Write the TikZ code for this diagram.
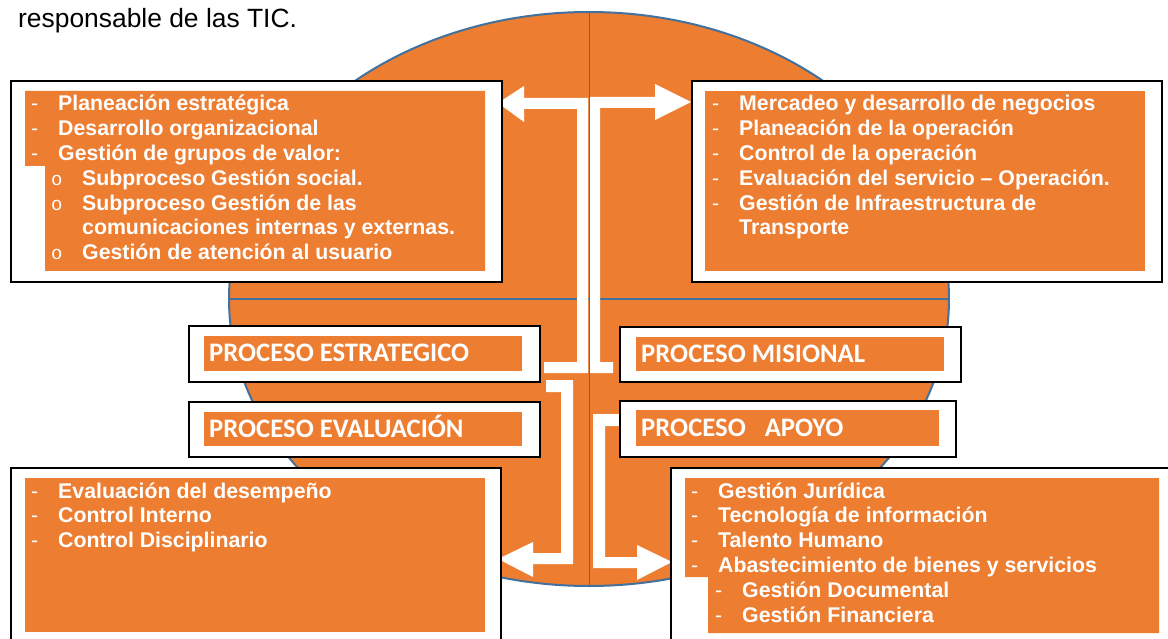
\documentclass[tikz,border=0pt]{standalone}
\usepackage{fontspec}
\setmainfont{Liberation Sans}
\newfontfamily\calibri{Carlito}
\newfontfamily\mono{Liberation Mono}
\usepackage{tikz}
\usetikzlibrary{positioning}
\definecolor{naranja}{HTML}{ED7D31}
\definecolor{azul}{HTML}{41719C}
\newcommand{\bul}[1]{\makebox[27pt][l]{\mdseries -}#1}
\newcommand{\subbul}[1]{\hspace*{20pt}\makebox[31pt][l]{\mono\mdseries\fontsize{19}{19}\selectfont o}#1}
\begin{document}
\begin{tikzpicture}[x=1pt,y=-1pt,
        marco/.style={draw=black,line width=2pt,fill=white,inner sep=0pt,anchor=north west},
        etiqueta/.style={fill=naranja,inner sep=0pt,anchor=north west},
        lista/.style={anchor=base west,inner sep=0pt,text=white,font=\bfseries\fontsize{21.3}{24.8}\selectfont},
        titulo/.style={anchor=base west,inner sep=0pt,text=white,font=\calibri\bfseries\fontsize{26.7}{30}\selectfont},
        flecha/.style={fill=white}]
        \useasboundingbox (0,0) rectangle (1168,639);
        \clip (0,0) rectangle (1168,639);
        \node[anchor=base west,inner sep=0pt,font=\fontsize{26.4}{30}\selectfont] (encabezado) at (18,28) {responsable de las TIC.};
        \fill[naranja] (589,299) ellipse [x radius=360pt,y radius=287pt];
        \draw[azul,line width=2pt] (589,299) ellipse [x radius=360pt,y radius=287pt];
        \draw[azul,line width=2pt] (229,299) -- (949,299);
        \draw[azul,line width=1pt] (589,12) -- (589,586);
        \fill[flecha] (544,362) -- (544,373) -- (588,373) -- (588,98) -- (524,98) -- (524,86) -- (498,103)
            -- (524,122) -- (524,109) -- (577,109) -- (577,362) -- cycle;
        \fill[flecha] (613,362) -- (613,373) -- (590,373) -- (590,97) -- (655,97) -- (655,84) -- (691,102)
            -- (655,120) -- (655,108) -- (600,108) -- (600,362) -- cycle;
        \fill[flecha] (546,380) -- (573,380) -- (573,564) -- (533,564) -- (533,577) -- (498,559)
            -- (533,542) -- (533,553) -- (561,553) -- (561,392) -- (546,392) -- cycle;
        \fill[flecha] (620,414) -- (593,414) -- (593,568) -- (637,568) -- (637,580) -- (672,562)
            -- (637,545) -- (637,557) -- (605,557) -- (605,426) -- (620,426) -- cycle;
        \node[marco,minimum width=491pt,minimum height=201pt] (marcoEst) at (10,80) {};
        \node[marco,minimum width=470pt,minimum height=201pt] (marcoMis) at (691,80) {};
        \node[marco,minimum width=351pt,minimum height=56pt] (cajaEst) at (188,325) {};
        \node[marco,minimum width=351pt,minimum height=55pt] (cajaEva) at (188,401) {};
        \node[marco,minimum width=341pt,minimum height=55pt] (cajaMis) at (619,326) {};
        \node[marco,minimum width=336pt,minimum height=56pt] (cajaApo) at (619,400) {};
        \node[marco,minimum width=490pt,minimum height=200pt] (marcoEva) at (10,467) {};
        \node[marco,minimum width=520pt,minimum height=200pt] (marcoApo) at (670,467) {};
        \fill[naranja] (25,91) -- (485,91) -- (485,271) -- (45,271) -- (45,166) -- (25,166) -- cycle;
        \fill[naranja] (705,91) rectangle (1145,271);
        \fill[naranja] (25,478) rectangle (485,632);
        \fill[naranja] (685,478) -- (1159,478) -- (1159,633) -- (708,633) -- (708,577) -- (685,577) -- cycle;
        \node[etiqueta,minimum width=318pt,minimum height=35pt] (fondoEst) at (204,336) {};
        \node[etiqueta,minimum width=318pt,minimum height=34pt] (fondoEva) at (204,412) {};
        \node[etiqueta,minimum width=308pt,minimum height=34pt] (fondoMis) at (636,337) {};
        \node[etiqueta,minimum width=303pt,minimum height=36pt] (fondoApo) at (636,410) {};
        \node[titulo] (textoEst) at (209,361) {PROCESO ESTRATEGICO};
        \node[titulo] (textoEva) at (209,437) {PROCESO EVALUACIÓN};
        \node[titulo] (textoMis) at (641,362) {PROCESO MISIONAL};
        \node[titulo] (textoApo) at (641,436) {PROCESO\hspace{19pt}APOYO};
        \node[lista] (listaEst) at (31,111) {\begin{tabular}[t]{@{}l@{}}
            \bul{Planeación estratégica}\\
            \bul{Desarrollo organizacional}\\
            \bul{Gestión de grupos de valor:}\\
            \subbul{Subproceso Gestión social.}\\
            \subbul{Subproceso Gestión de las}\\
            \hspace*{51pt}comunicaciones internas y externas.\\
            \subbul{Gestión de atención al usuario}
        \end{tabular}};
        \node[lista] (listaMis) at (712,111) {\begin{tabular}[t]{@{}l@{}}
            \bul{Mercadeo y desarrollo de negocios}\\
            \bul{Planeación de la operación}\\
            \bul{Control de la operación}\\
            \bul{Evaluación del servicio – Operación.}\\
            \bul{Gestión de Infraestructura de}\\
            \hspace*{27pt}Transporte
        \end{tabular}};
        \node[lista] (listaEva) at (31,498) {\begin{tabular}[t]{@{}l@{}}
            \bul{Evaluación del desempeño}\\
            \bul{Control Interno}\\
            \bul{Control Disciplinario}
        \end{tabular}};
        \node[lista] (listaApo) at (691,498) {\begin{tabular}[t]{@{}l@{}}
            \bul{Gestión Jurídica}\\
            \bul{Tecnología de información}\\
            \bul{Talento Humano}\\
            \bul{Abastecimiento de bienes y servicios}\\
            \hspace*{24pt}\bul{Gestión Documental}\\
            \hspace*{24pt}\bul{Gestión Financiera}
        \end{tabular}};
\end{tikzpicture}
\end{document}
